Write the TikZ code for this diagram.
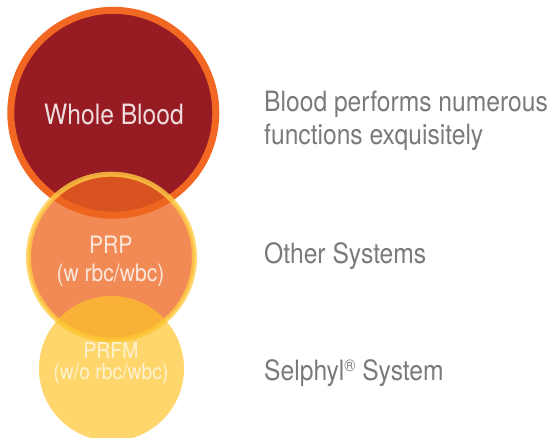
\documentclass[tikz,border=0pt]{standalone}
\usepackage{fontspec}
\newfontfamily\thinsans{TeX Gyre Heros}[FakeStretch=0.88]
\definecolor{bloodred}{HTML}{961B22}
\definecolor{bloodring}{HTML}{F26722}
\definecolor{prpfill}{HTML}{EE651F}
\definecolor{prpring}{HTML}{FFCC44}
\definecolor{prfmfill}{HTML}{FDC42C}
\definecolor{captiongrey}{HTML}{7A7A7A}
\tikzset{
  disc/.style={circle, inner sep=0pt, outer sep=0pt},
  inlabel/.style={anchor=base, inner sep=0pt, text=white, font=\thinsans},
  sidelabel/.style={anchor=base west, inner sep=0pt, text=captiongrey,
    font=\thinsans\fontsize{28}{33}\selectfont}
}
\begin{document}
\begin{tikzpicture}[x=1pt, y=-1pt]
  \useasboundingbox (0,0) rectangle (558,438);
  \clip (0,0) rectangle (558,438);

  % overlapping discs, top to bottom
  \node[disc, minimum size=205pt, fill=bloodred, draw=bloodring, line width=7pt]
    (whole) at (113.3,112.8) {};
  \node[disc, minimum size=166pt, fill=prpfill, fill opacity=0.76,
        draw=prpring, draw opacity=0.8, line width=5pt]
    (prp) at (111.5,257.2) {};
  \node[disc, minimum size=145pt, fill=prfmfill, fill opacity=0.7]
    (prfm) at (111.5,368.5) {};

  % labels inside the discs
  \node[inlabel, text opacity=0.85, font=\thinsans\fontsize{28}{33}\selectfont]
    (wholetext) at (114,124.3) {Whole Blood};
  \node[inlabel, text opacity=0.8, font=\thinsans\fontsize{24}{28}\selectfont]
    (prptext) at (110.8,253.3) {PRP};
  \node[inlabel, text opacity=0.8, font=\thinsans\fontsize{24}{28}\selectfont]
    (prpsub) at (110.5,281.7) {(w rbc/wbc)};
  \node[inlabel, text opacity=0.7, font=\thinsans\fontsize{22}{26}\selectfont]
    (prfmtext) at (111,359) {PRFM};
  \node[inlabel, text opacity=0.7, font=\thinsans\fontsize{22}{26}\selectfont]
    (prfmsub) at (111,379.5) {(w/o rbc/wbc)};

  % captions on the right
  \node[sidelabel] (cap1a) at (264,111.7) {Blood performs numerous};
  \node[sidelabel] (cap1b) at (264,145) {functions exquisitely};
  \node[sidelabel] (cap2) at (264,263.3) {Other Systems};
  \node[sidelabel] (cap3) at (264,380.7)
    {Selphyl\raisebox{9pt}{\fontsize{17}{17}\selectfont ®} System};
\end{tikzpicture}
\end{document}
